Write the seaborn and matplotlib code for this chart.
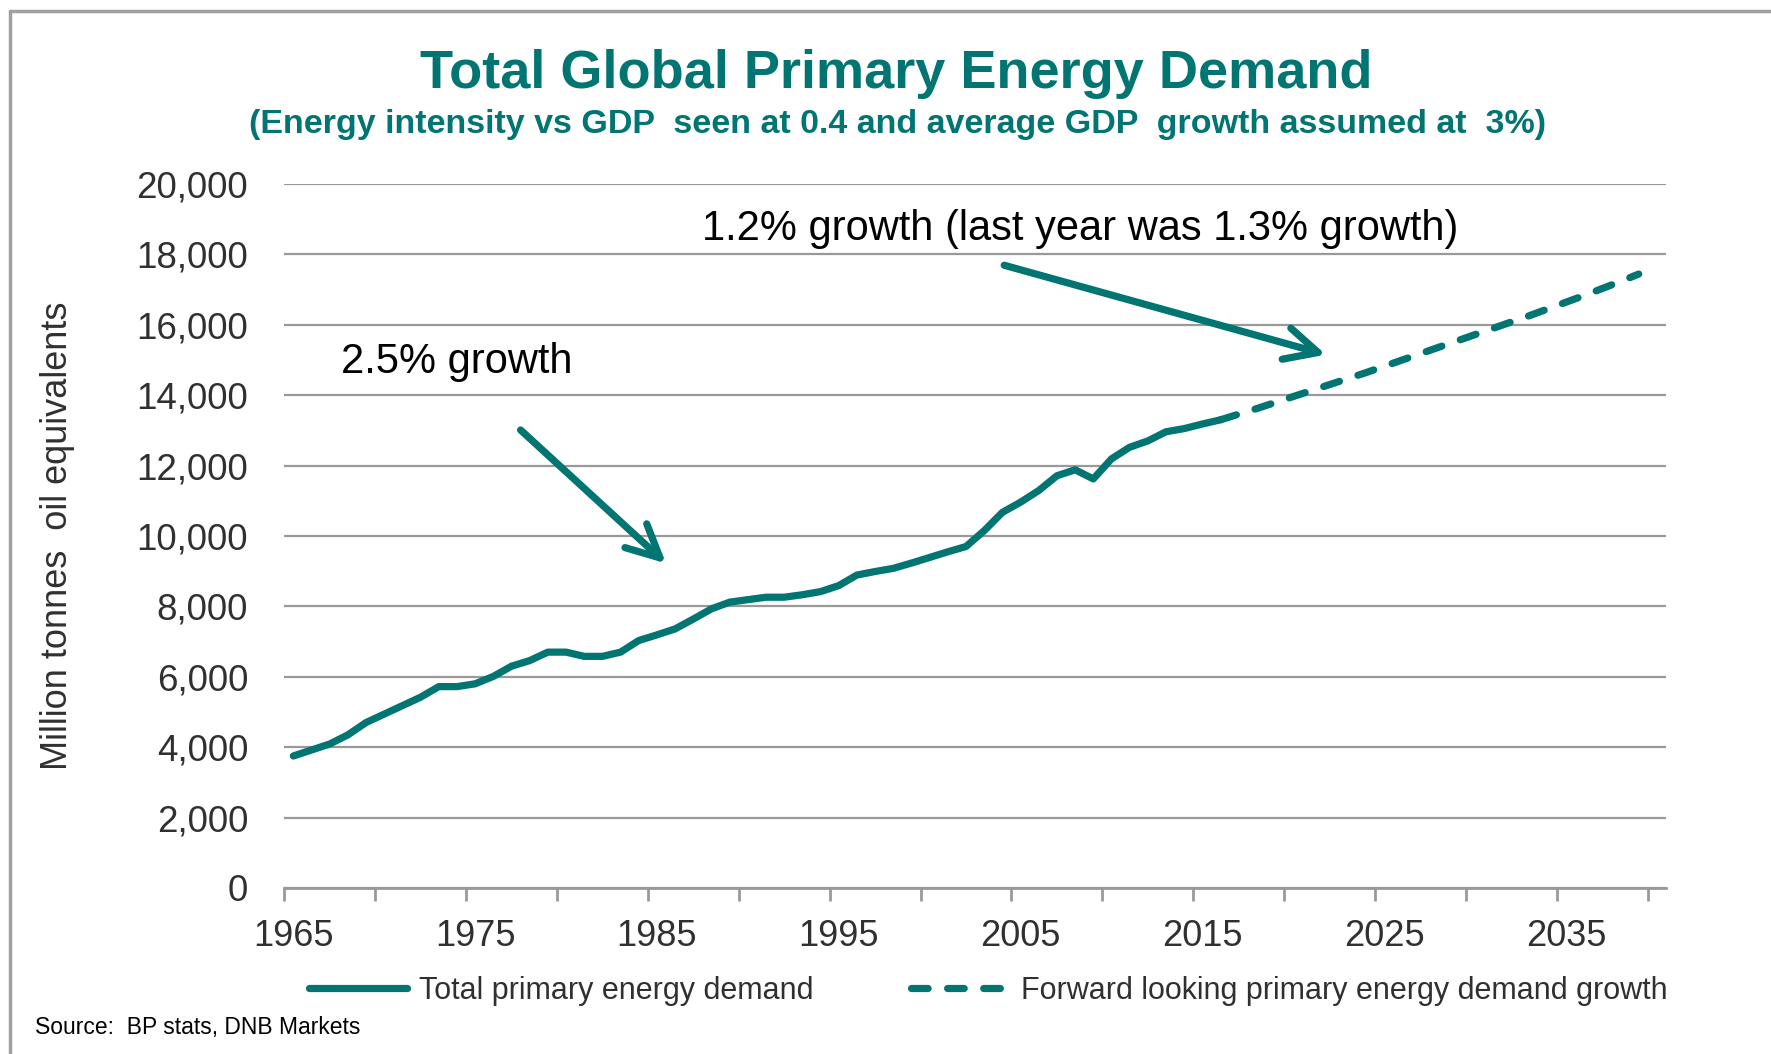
import pandas as pd
import numpy as np
import seaborn as sns
import matplotlib.pyplot as plt
import matplotlib.ticker as ticker
from matplotlib.lines import Line2D


sns.set_theme(style='white')
plt.rcParams['font.family'] = ['Liberation Sans', 'DejaVu Sans']

teal = '#007571'
grey_txt = '#303030'
grid_col = '#999999'

# Historical demand (BP stats), million tonnes oil equivalents
years_hist = list(range(1965, 2017))
demand_hist = [3750, 3920, 4090, 4350, 4700, 4940, 5180, 5420, 5720, 5720,
               5800, 6010, 6300, 6460, 6700, 6700, 6580, 6580, 6700, 7030,
               7190, 7360, 7640, 7930, 8120, 8190, 8260, 8260, 8330, 8420,
               8590, 8890, 8990, 9080, 9230, 9390, 9550, 9700, 10150, 10670,
               10960, 11290, 11710, 11880, 11620, 12190, 12520, 12700, 12960, 13050,
               13180, 13300]

# Forward looking demand
years_fcst = list(range(2016, 2040))
demand_fcst = [13300, 13460, 13620, 13790, 13960, 14130, 14300, 14470, 14640, 14820,
               15000, 15180, 15360, 15540, 15720, 15900, 16080, 16260, 16450, 16640,
               16830, 17030, 17230, 17440]

series_names = ['Total primary energy demand', 'Forward looking primary energy demand growth']
year_labels = [1965, 1975, 1985, 1995, 2005, 2015, 2025, 2035]

df = pd.concat([
    pd.DataFrame({'year': years_hist, 'mtoe': demand_hist, 'series': series_names[0]}),
    pd.DataFrame({'year': years_fcst, 'mtoe': demand_fcst, 'series': series_names[1]}),
], ignore_index=True)


fig = plt.figure(figsize=(17.71, 10.54), dpi=100)
ax = fig.add_axes([0.1605, 0.1575, 0.7802, 0.668])

sns.lineplot(data=df, x='year', y='mtoe', hue='series', style='series',
             palette=[teal, teal], dashes=['', (2.3, 2.7)], lw=5.2,
             hue_order=series_names, style_order=series_names, ax=ax, legend=True)
for ln in ax.get_lines():
    ln.set_solid_capstyle('round')
    ln.set_dash_capstyle('round')
    ln.set_solid_joinstyle('round')

# axes
ax.set_xlim(1964.5, 2040.5)
ax.set_ylim(0, 20000)
ax.set_yticks(np.arange(0, 20001, 2000))
ax.yaxis.set_major_formatter(ticker.StrMethodFormatter('{x:,.0f}'))
ax.set_xticks(year_labels)
ax.set_xticks(np.arange(1964.5, 2040, 5), minor=True)
ax.tick_params(axis='x', which='major', length=0, pad=22, labelsize=26, labelcolor=grey_txt)
ax.tick_params(axis='x', which='minor', length=9, width=2, color=grid_col, direction='out', bottom=True)
ax.tick_params(axis='y', length=0, pad=26, labelsize=26.5, labelcolor=grey_txt)
ax.grid(axis='y', color=grid_col, lw=1.6)
ax.grid(axis='x', visible=False)
for s in ['top', 'right', 'left']:
    ax.spines[s].set_visible(False)
ax.spines['bottom'].set_color(grid_col)
ax.spines['bottom'].set_linewidth(2)
ax.set_xlabel('')
ax.set_ylabel('Million tonnes  oil equivalents', fontsize=26, color=grey_txt, labelpad=44)

# annotations
ax.text(1967.6, 14950, '2.5% growth', fontsize=30, color='black', va='center', ha='left')
ax.text(1987.5, 18720, '1.2% growth (last year was 1.3% growth)', fontsize=30,
        color='black', va='center', ha='left')
arrow_kw = dict(arrowstyle='->,head_length=1.18,head_width=0.58', color=teal, lw=5.2,
                mutation_scale=20, capstyle='round', shrinkA=0, shrinkB=0)
ax.annotate('', xy=(1985.5, 9220), xytext=(1977.5, 13010), arrowprops=arrow_kw)
ax.annotate('', xy=(2021.8, 15150), xytext=(2004.1, 17690), arrowprops=arrow_kw)

# legend
handles, labels = ax.get_legend_handles_labels()
ax.get_legend().remove()
fig.legend(handles, labels, loc='center', bbox_to_anchor=(0.558, 0.06), ncol=2,
           frameon=False, fontsize=22, handlelength=3.2, handletextpad=0.4,
           columnspacing=3.2, labelcolor=grey_txt)

# titles
fig.text(0.506, 0.930, 'Total Global Primary Energy Demand', fontsize=39, fontweight='bold',
         color=teal, ha='center', va='center')
fig.text(0.507, 0.882, '(Energy intensity vs GDP  seen at 0.4 and average GDP  growth assumed at  3%)',
         fontsize=24.5, fontweight='bold', color=teal, ha='center', va='center')
fig.text(0.02, 0.025, 'Source:  BP stats, DNB Markets', fontsize=16.5, color='black',
         ha='left', va='center')

# frame around the slide
fig.add_artist(Line2D([10 / 1771, 1], [1 - 11 / 1054, 1 - 11 / 1054], color='#a0a0a0', lw=2.5))
fig.add_artist(Line2D([10 / 1771, 10 / 1771], [0, 1 - 11 / 1054], color='#a0a0a0', lw=2.5))

plt.savefig('out.png', dpi=100)
